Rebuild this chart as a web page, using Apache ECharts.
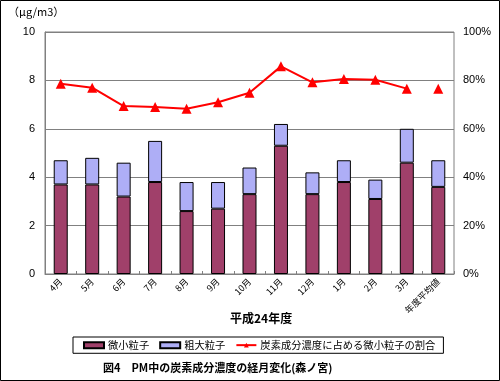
<!DOCTYPE html>
<html><head><meta charset="utf-8">
<script src="https://cdn.jsdelivr.net/npm/echarts@6/dist/echarts.min.js"></script>
<style>html,body{margin:0;padding:0;background:#fff}#c{width:500px;height:381px}</style>
</head><body><div id="c"></div>
<script>
const categories = ['4月','5月','6月','7月','8月','9月','10月','11月','12月','1月','2月','3月','年度平均値'];
const fine =   [3.7,3.7,3.2,3.8,2.6,2.7,3.3,5.3,3.3,3.8,3.1,4.6,3.6];
const coarse = [1.0,1.1,1.4,1.7,1.2,1.1,1.1,0.9,0.9,0.9,0.8,1.4,1.1];
const ratioMonthly = [78.6,77.0,69.4,69.0,68.3,71.0,74.9,85.8,79.2,80.6,80.3,76.6,'-'];
const ratioAnnual = ['-','-','-','-','-','-','-','-','-','-','-','-',76.6];
const leftTicks = [0,2,4,6,8,10];
const rightTicks = ['0%','20%','40%','60%','80%','100%'];

const FONT = '"Noto Sans CJK JP", sans-serif';
const chart = echarts.init(document.getElementById('c'), null, {renderer:'canvas'});
chart.setOption({
  animation:false,
  backgroundColor:'#fff',
  textStyle:{fontFamily:FONT},
  graphic:[
    {type:'rect', shape:{x:0.5,y:0.5,width:499,height:380}, style:{fill:'none',stroke:'#000',lineWidth:1}, silent:true},
    {type:'text', left:8, top:6, style:{text:'（μg/m3）', font:'11px '+FONT, fill:'#000'}},
    {type:'text', left:103, top:362, style:{text:'図4　PM中の炭素成分濃度の経月変化(森ノ宮)', font:'bold 11px '+FONT, fill:'#000'}},
    {type:'text', left:230, top:312, style:{text:'平成24年度', font:'bold 12px '+FONT, fill:'#000'}}
  ],
  grid:{left:45,right:46,top:32,bottom:107,show:true,borderColor:'#808080',borderWidth:1},
  legend:{
    left:73, top:337,
    borderColor:'#000', borderWidth:1, padding:[3,8,3,10],
    itemGap:10, itemWidth:20, itemHeight:6,
    textStyle:{fontSize:10.3, fontFamily:FONT, color:'#000', padding:[0,0,0,-1]},
    data:[
      {name:'微小粒子', icon:'rect'},
      {name:'粗大粒子', icon:'rect'},
      {name:'炭素成分濃度に占める微小粒子の割合'}
    ]
  },
  xAxis:{
    type:'category', data:categories,
    axisLine:{lineStyle:{color:'#808080'}},
    axisTick:{show:true, inside:true, length:3, lineStyle:{color:'#808080'}},
    axisLabel:{rotate:45, fontSize:9, color:'#000', margin:6, interval:0, fontFamily:FONT}
  },
  yAxis:[
    {type:'value', min:0, max:10, interval:2,
     axisLine:{show:true, lineStyle:{color:'#808080'}}, axisTick:{show:false},
     axisLabel:{fontSize:11, color:'#000', margin:10, fontFamily:'"Liberation Sans", sans-serif'},
     splitLine:{lineStyle:{color:'#808080', width:1}}},
    {type:'value', min:0, max:100, interval:20,
     axisLine:{show:false}, axisTick:{show:false},
     axisLabel:{fontSize:11, color:'#000', margin:9, formatter:v=>v+'%', fontFamily:'"Liberation Sans", sans-serif'},
     splitLine:{show:false}}
  ],
  series:[
    {name:'微小粒子', type:'bar', stack:'pm', data:fine, barWidth:14,
     itemStyle:{color:'#A0406A', borderColor:'#000', borderWidth:1}},
    {name:'粗大粒子', type:'bar', stack:'pm', data:coarse, barWidth:14,
     itemStyle:{color:'#AEAEF6', borderColor:'#000', borderWidth:1}},
    {name:'炭素成分濃度に占める微小粒子の割合', type:'line', yAxisIndex:1, data:ratioMonthly,
     symbol:'triangle', symbolSize:10, lineStyle:{color:'#FF0000', width:2},
     itemStyle:{color:'#FF0000'}, connectNulls:false},
    {name:'annual', type:'line', yAxisIndex:1, data:ratioAnnual,
     symbol:'triangle', symbolSize:10, showAllSymbol:true, lineStyle:{width:0},
     itemStyle:{color:'#FF0000'}}
  ]
});
</script></body></html>
